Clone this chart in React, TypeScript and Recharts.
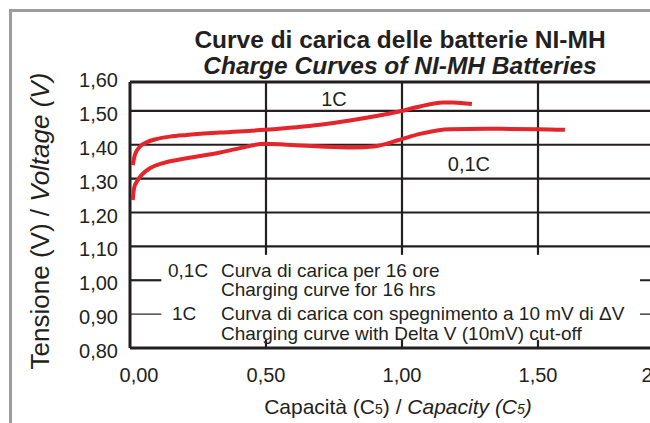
import React from "react";
import { LineChart, Line, XAxis, YAxis, ReferenceLine, ReferenceDot } from "recharts";

// capacity (C5) / voltage (V)
const capacity1C = [0.01, 0.018, 0.037, 0.061, 0.098, 0.147, 0.208, 0.331, 0.496, 0.699, 0.82, 0.989, 1.066, 1.151, 1.188, 1.257];
const voltage1C = [1.34, 1.37, 1.395, 1.407, 1.417, 1.424, 1.429, 1.436, 1.444, 1.459, 1.473, 1.498, 1.513, 1.525, 1.525, 1.52];

const capacity01C = [0.01, 0.015, 0.025, 0.043, 0.074, 0.122, 0.208, 0.331, 0.404, 0.496, 0.576, 0.699, 0.821, 0.895, 0.989, 1.066, 1.176, 1.311, 1.501, 1.599];
const voltage01C = [1.237, 1.272, 1.291, 1.311, 1.331, 1.346, 1.36, 1.377, 1.39, 1.403, 1.4, 1.395, 1.392, 1.395, 1.414, 1.432, 1.446, 1.447, 1.446, 1.444];

const xTicks = [0, 0.5, 1, 1.5, 2];
const yTicks = [0.8, 0.9, 1.0, 1.1, 1.2, 1.3, 1.4, 1.5, 1.6];
const gridY = [1.1, 1.2, 1.3, 1.4, 1.5];
const gridX = [0.5, 1, 1.5];
const legendMarks = [1.0, 0.9];

const FRAME_TOP = 1.585;
const INK = "#231f20";
const RED = "#e4252b";
const FONT = "'Liberation Sans', Arial, Helvetica, sans-serif";

const data1C = capacity1C.map((c, i) => ({ c, v: voltage1C[i] }));
const data01C = capacity01C.map((c, i) => ({ c, v: voltage01C[i] }));

const fmt = (v: number) => v.toFixed(2).replace(".", ",");

const XTick = (props: any) => {
  const { x, y, payload } = props;
  const shift = payload.value === 0 ? 9 : payload.value === 2 ? -13 : 0;
  return (
    <text x={x + shift} y={y} dy={34} textAnchor="middle" fontSize={20} fill={INK} fontFamily={FONT}>
      {fmt(payload.value)}
    </text>
  );
};

const YTick = (props: any) => {
  const { x, y, payload } = props;
  return (
    <text x={x} y={y} dy={10} textAnchor="end" fontSize={20} fill={INK} fontFamily={FONT}>
      {fmt(payload.value)}
    </text>
  );
};

const App = () => {
  return (
    <div style={{ position: "absolute", left: 0, top: 0, width: 650, height: 423, overflow: "hidden", background: "#fff" }}>
      <div style={{ position: "absolute", left: 9, top: 9, right: -20, bottom: -20, borderLeft: "3px solid #9d9d9d", borderTop: "3px solid #9d9d9d" }} />
      <div style={{ position: "absolute", left: 0, top: 0 }}>
        <LineChart width={680} height={423} margin={{ top: 77, right: 6, bottom: 35, left: 0 }}>
          <XAxis
            type="number"
            dataKey="c"
            domain={[0, 2]}
            ticks={xTicks}
            allowDuplicatedCategory={false}
            height={40}
            tickSize={0}
            tickMargin={0}
            axisLine={{ stroke: INK, strokeWidth: 3 }}
            tickLine={false}
            tick={<XTick />}
          />
          <YAxis
            type="number"
            dataKey="v"
            domain={[0.8, 1.6]}
            ticks={yTicks}
            width={130}
            tickSize={0}
            tickMargin={12}
            axisLine={false}
            tickLine={false}
            tick={<YTick />}
          />
          {gridY.map((v) => (
            <ReferenceLine key={"gy" + v} y={v} stroke={INK} strokeWidth={2.2} />
          ))}
          {gridX.map((v) => (
            <ReferenceLine key={"gx" + v} segment={[{ x: v, y: 1.075 }, { x: v, y: FRAME_TOP }]} stroke={INK} strokeWidth={2.2} />
          ))}
          {gridX.map((v) => (
            <ReferenceLine key={"bt" + v} segment={[{ x: v, y: 0.8 }, { x: v, y: 0.824 }]} stroke={INK} strokeWidth={2.2} />
          ))}
          {legendMarks.map((v, i) => (
            <ReferenceLine key={"ll" + v} segment={[{ x: 0, y: v }, { x: 0.115, y: v }]} stroke={INK} strokeWidth={i === 0 ? 2.2 : 1.2} />
          ))}
          {legendMarks.map((v, i) => (
            <ReferenceLine key={"lr" + v} segment={[{ x: 1.875, y: v }, { x: 2, y: v }]} stroke={INK} strokeWidth={i === 0 ? 2.2 : 1.2} />
          ))}
          <ReferenceLine segment={[{ x: 0, y: FRAME_TOP }, { x: 2, y: FRAME_TOP }]} stroke={INK} strokeWidth={3} />
          <ReferenceLine segment={[{ x: 0, y: 0.8 }, { x: 0, y: FRAME_TOP }]} stroke={INK} strokeWidth={3} />
          <Line data={data1C} type="monotone" dataKey="v" stroke={RED} strokeWidth={4} dot={false} isAnimationActive={false} />
          <Line data={data01C} type="monotone" dataKey="v" stroke={RED} strokeWidth={4} dot={false} isAnimationActive={false} />
          <ReferenceDot x={0.75} y={1.535} r={0} fill="none" stroke="none"
            label={{ value: "1C", position: "center", fontSize: 20, fill: INK, fontFamily: FONT }} />
          <ReferenceDot x={1.246} y={1.344} r={0} fill="none" stroke="none"
            label={{ value: "0,1C", position: "center", fontSize: 20, fill: INK, fontFamily: FONT }} />
        </LineChart>
      </div>
      <svg width={650} height={423} style={{ position: "absolute", left: 0, top: 0, pointerEvents: "none" }} fontFamily={FONT} fill={INK}>
        <text x={400} y={48} textAnchor="middle" fontSize={24.5} fontWeight="bold">Curve di carica delle batterie NI-MH</text>
        <text x={400} y={74} textAnchor="middle" fontSize={24.5} fontWeight="bold" fontStyle="italic">Charge Curves of NI-MH Batteries</text>
        <text transform="translate(49,221) rotate(-90)" textAnchor="middle" fontSize={26}>
          Tensione (V) / <tspan fontStyle="italic">Voltage</tspan> <tspan fontStyle="italic">(V)</tspan>
        </text>
        <text x={398} y={414} textAnchor="middle" fontSize={21}>
          Capacità (C<tspan fontSize={14}>5</tspan>) / <tspan fontStyle="italic">Capacity (C<tspan fontSize={14}>5</tspan>)</tspan>
        </text>
        <g fontSize={19}>
          <text x={168} y={277}>0,1C</text>
          <text x={221} y={277}>Curva di carica per 16 ore</text>
          <text x={221} y={296}>Charging curve for 16 hrs</text>
          <text x={172} y={320}>1C</text>
          <text x={221} y={320}>Curva di carica con spegnimento a 10 mV di ΔV</text>
          <text x={221} y={340}>Charging curve with Delta V (10mV) cut-off</text>
        </g>
      </svg>
    </div>
  );
};

export default App;
